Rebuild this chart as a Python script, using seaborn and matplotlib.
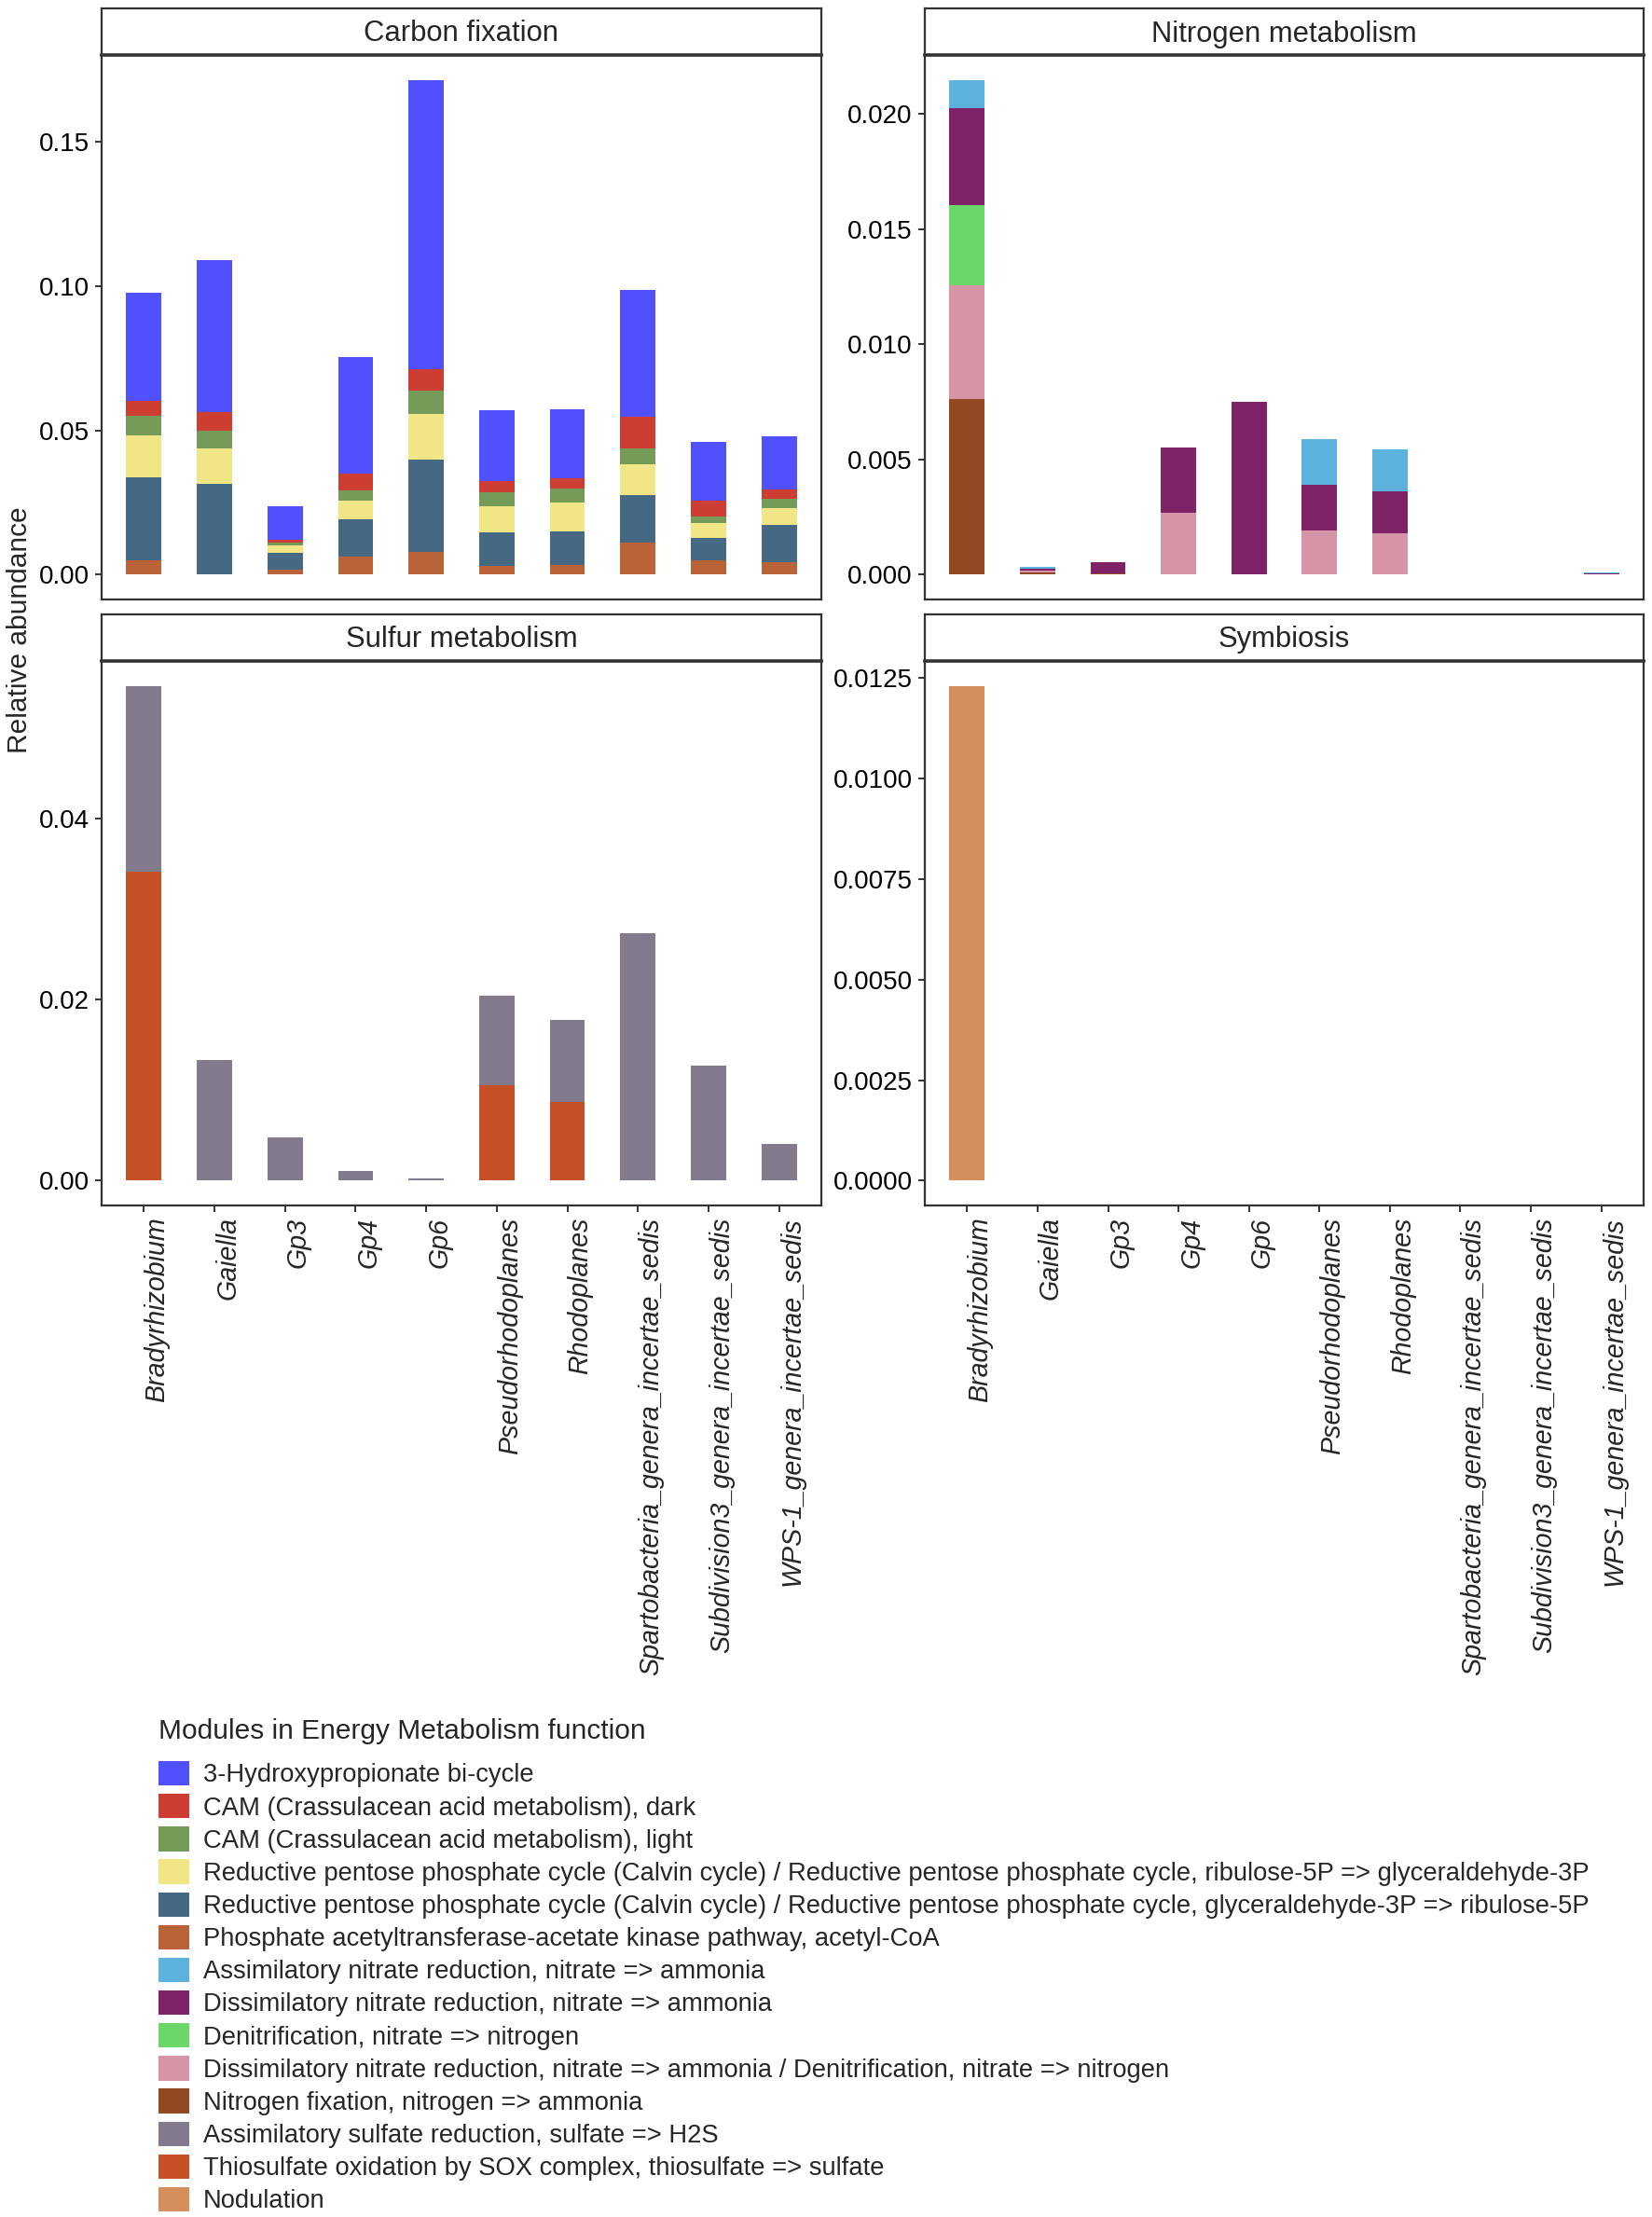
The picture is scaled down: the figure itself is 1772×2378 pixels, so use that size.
import numpy as np
import pandas as pd
import matplotlib
matplotlib.use("Agg")
import matplotlib.pyplot as plt
from matplotlib.patches import Patch
from matplotlib.ticker import MultipleLocator, FormatStrFormatter
import seaborn as sns

sns.set_style("white")
plt.rcParams['font.family'] = ['Liberation Sans', 'DejaVu Sans']

genera = ["Bradyrhizobium", "Gaiella", "Gp3", "Gp4", "Gp6", "Pseudorhodoplanes",
          "Rhodoplanes", "Spartobacteria_genera_incertae_sedis",
          "Subdivision3_genera_incertae_sedis", "WPS-1_genera_incertae_sedis"]

modules = ["3-Hydroxypropionate bi-cycle",
           "CAM (Crassulacean acid metabolism), dark",
           "CAM (Crassulacean acid metabolism), light",
           "Reductive pentose phosphate cycle (Calvin cycle) / Reductive pentose phosphate cycle, ribulose-5P => glyceraldehyde-3P",
           "Reductive pentose phosphate cycle (Calvin cycle) / Reductive pentose phosphate cycle, glyceraldehyde-3P => ribulose-5P",
           "Phosphate acetyltransferase-acetate kinase pathway, acetyl-CoA",
           "Assimilatory nitrate reduction, nitrate => ammonia",
           "Dissimilatory nitrate reduction, nitrate => ammonia",
           "Denitrification, nitrate => nitrogen",
           "Dissimilatory nitrate reduction, nitrate => ammonia / Denitrification, nitrate => nitrogen",
           "Nitrogen fixation, nitrogen => ammonia",
           "Assimilatory sulfate reduction, sulfate => H2S",
           "Thiosulfate oxidation by SOX complex, thiosulfate => sulfate",
           "Nodulation"]

# ggsci igv palette
colors = ["#5050FF", "#CE3D32", "#749B58", "#F0E685", "#466983", "#BA6338",
          "#5DB1DD", "#802268", "#6BD76B", "#D595A7", "#924822", "#837B8D",
          "#C75127", "#D58F5C"]

functions = ["Carbon fixation", "Nitrogen metabolism", "Sulfur metabolism", "Symbiosis"]
func_modules = {"Carbon fixation": modules[0:6],
                "Nitrogen metabolism": modules[6:11],
                "Sulfur metabolism": modules[11:13],
                "Symbiosis": modules[13:14]}

# relative abundance per module (values per genus, same order as genera)
hydroxy   = [0.0375, 0.0529, 0.0116, 0.0403, 0.1003, 0.0245, 0.0237, 0.0439, 0.0205, 0.0184]
cam_dark  = [0.0053, 0.0063, 0.0010, 0.0059, 0.0074, 0.0040, 0.0036, 0.0109, 0.0053, 0.0031]
cam_light = [0.0068, 0.0061, 0.0010, 0.0034, 0.0080, 0.0049, 0.0050, 0.0056, 0.0025, 0.0033]
rpp_r2g   = [0.0145, 0.0124, 0.0027, 0.0066, 0.0159, 0.0088, 0.0100, 0.0107, 0.0051, 0.0058]
rpp_g2r   = [0.0286, 0.0311, 0.0057, 0.0129, 0.0318, 0.0118, 0.0116, 0.0164, 0.0076, 0.0130]
pta_ack   = [0.0050, 0.0003, 0.0018, 0.0062, 0.0080, 0.0030, 0.0033, 0.0111, 0.0051, 0.0042]

assim_no3 = [0.00124, 0.00008, 0.0, 0.0, 0.0, 0.00197, 0.00183, 0.0, 0.0, 0.00004]
dissim_no3 = [0.00418, 0.00010, 0.00051, 0.00284, 0.00749, 0.00196, 0.00182, 0.0, 0.0, 0.00004]
denitrif  = [0.00348, 0.0, 0.0, 0.0, 0.0, 0.0, 0.0, 0.0, 0.0, 0.0]
dissim_denit = [0.00496, 0.00008, 0.0, 0.00268, 0.0, 0.00194, 0.00180, 0.0, 0.0, 0.0]
n_fix     = [0.00762, 0.00010, 0.00005, 0.0, 0.0, 0.0, 0.0, 0.0, 0.0, 0.0]

assim_so4 = [0.0206, 0.01335, 0.00477, 0.00104, 0.00026, 0.00984, 0.0091, 0.02739, 0.01274, 0.00403]
sox       = [0.0341, 0.0, 0.0, 0.0, 0.0, 0.01057, 0.00867, 0.0, 0.0, 0.0]

nodulation = [0.0123, 0.0, 0.0, 0.0, 0.0, 0.0, 0.0, 0.0, 0.0, 0.0]

values = [hydroxy, cam_dark, cam_light, rpp_r2g, rpp_g2r, pta_ack,
          assim_no3, dissim_no3, denitrif, dissim_denit, n_fix,
          assim_so4, sox, nodulation]

rows = []
for func in functions:
    for mod in func_modules[func]:
        vals = values[modules.index(mod)]
        for g, v in zip(genera, vals):
            rows.append((func, mod, g, v))
df = pd.DataFrame(rows, columns=["Function", "Module", "Genus", "Abundance"])
df["Genus"] = pd.Categorical(df["Genus"], categories=genera, ordered=True)

palette = dict(zip(modules, colors))

W, H = 1772, 2378
fig = plt.figure(figsize=(W / 100, H / 100), dpi=100)

# panel boxes in pixels: (left, right, strip_top, strip_bottom, panel_bottom)
boxes = {"Carbon fixation": (109, 881, 9, 59, 643),
         "Nitrogen metabolism": (992, 1763, 9, 59, 643),
         "Sulfur metabolism": (109, 881, 659, 709, 1293),
         "Symbiosis": (992, 1763, 659, 709, 1293)}
steps = {"Carbon fixation": (0.05, "%.2f"),
         "Nitrogen metabolism": (0.005, "%.3f"),
         "Sulfur metabolism": (0.02, "%.2f"),
         "Symbiosis": (0.0025, "%.4f")}
edge = "#333333"

for func in functions:
    x0, x1, st, sb, pb = boxes[func]
    ax = fig.add_axes([x0 / W, 1 - pb / H, (x1 - x0) / W, (pb - sb) / H])
    sub = df[df["Function"] == func]
    sns.histplot(data=sub, x="Genus", weights="Abundance", hue="Module",
                 hue_order=func_modules[func], palette=palette,
                 multiple="stack", discrete=True, shrink=0.5,
                 alpha=1, linewidth=0, legend=False, ax=ax)
    top = sub.groupby("Genus", observed=False)["Abundance"].sum().max()
    ax.set_ylim(-0.05 * top, 1.05 * top)
    ax.set_xlim(-0.6, len(genera) - 0.4)
    ax.yaxis.set_major_locator(MultipleLocator(steps[func][0]))
    ax.yaxis.set_major_formatter(FormatStrFormatter(steps[func][1]))
    ax.set_xlabel("")
    ax.set_ylabel("")
    for s in ax.spines.values():
        s.set_color(edge)
        s.set_linewidth(1.6)
    ax.tick_params(axis="y", length=5, width=1.4, color=edge, labelsize=20,
                   labelcolor="black", left=True, pad=4.5)
    ax.set_xticks(range(len(genera)))
    if func in ("Sulfur metabolism", "Symbiosis"):
        ax.set_xticklabels(genera, rotation=90, fontstyle="italic", fontsize=20.6,
                           ha="left", va="top")
        ax.tick_params(axis="x", length=5, width=1.4, color=edge, bottom=True, pad=4)
    else:
        ax.tick_params(axis="x", bottom=False, labelbottom=False)
    ax.grid(False)

    # facet strip
    sax = fig.add_axes([x0 / W, 1 - sb / H, (x1 - x0) / W, (sb - st) / H])
    sax.set_xticks([])
    sax.set_yticks([])
    for s in sax.spines.values():
        s.set_color(edge)
        s.set_linewidth(1.6)
    sax.spines["bottom"].set_linewidth(2.6)
    sax.text(0.5, 0.45, func, ha="center", va="center", fontsize=22.3,
             transform=sax.transAxes)

fig.text(21 / W, 1 - 676 / H, "Relative abundance", rotation=90,
         ha="center", va="center", fontsize=21.5)

fig.text(170 / W, 1 - 1857 / H, "Modules in Energy Metabolism function",
         ha="left", va="center", fontsize=21.5)

handles = [Patch(facecolor=c, edgecolor="none") for c in colors]
leg = fig.legend(handles, modules, loc="upper left",
                 bbox_to_anchor=(170 / W, 1 - 1889 / H),
                 fontsize=19.7, frameon=False,
                 handlelength=1.2, handleheight=1.1, handletextpad=0.55,
                 labelspacing=0.245, borderaxespad=0, borderpad=0)

fig.savefig("out.png", dpi=100, facecolor="white")
